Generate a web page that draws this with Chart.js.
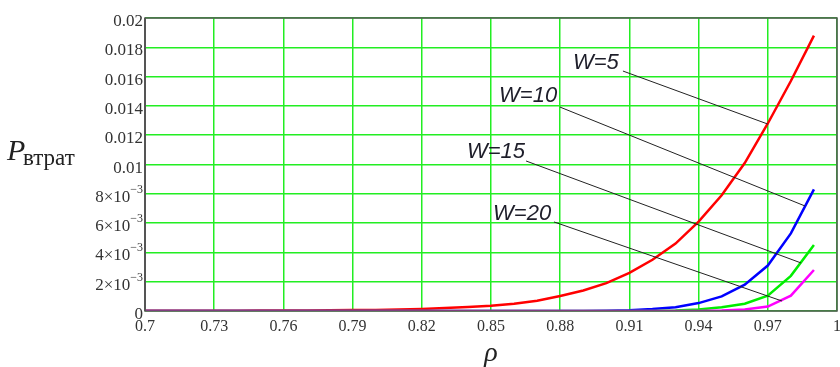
<!DOCTYPE html>
<html>
<head>
<meta charset="utf-8">
<script src="https://cdn.jsdelivr.net/npm/chart.js@4/dist/chart.umd.min.js"></script>
<style>
  html, body { margin: 0; padding: 0; background: #ffffff; }
  #wrap { width: 840px; height: 367px; position: relative; }
</style>
</head>
<body>
<div id="wrap"><canvas id="c" width="840" height="367"></canvas></div>
<script>
// Load factor values along the horizontal axis
const rho = [0.70, 0.71, 0.72, 0.73, 0.74, 0.75, 0.76, 0.77, 0.78, 0.79,
             0.80, 0.81, 0.82, 0.83, 0.84, 0.85, 0.86, 0.87, 0.88, 0.89,
             0.90, 0.91, 0.92, 0.93, 0.94, 0.95, 0.96, 0.97, 0.98, 0.99];

// Loss probability for each buffer size W
const lossW5 = [0.00001, 0.000012, 0.000015, 0.000018, 0.000022, 0.000027, 0.000033, 0.00004, 0.000049, 0.00006,
                0.000075, 0.000095, 0.00014, 0.0002, 0.00027, 0.00036, 0.0005, 0.0007, 0.00102, 0.0014,
                0.0019, 0.0026, 0.0035, 0.0046, 0.0061, 0.0079, 0.0101, 0.0128, 0.0157, 0.0188];
const lossW10 = [0, 0, 0, 0, 0, 0, 0, 0, 0, 0,
                 0, 0, 0, 0, 0, 0, 0, 0, 0, 0,
                 0.00002, 0.00005, 0.00013, 0.00026, 0.00054, 0.001, 0.0018, 0.0031, 0.0053, 0.0083];
const lossW15 = [0, 0, 0, 0, 0, 0, 0, 0, 0, 0,
                 0, 0, 0, 0, 0, 0, 0, 0, 0, 0,
                 0, 0, 0, 0.00003, 0.0001, 0.00025, 0.0005, 0.00105, 0.0024, 0.0045];
const lossW20 = [0, 0, 0, 0, 0, 0, 0, 0, 0, 0,
                 0, 0, 0, 0, 0, 0, 0, 0, 0, 0,
                 0, 0, 0, 0, 0, 0.00003, 0.0001, 0.0003, 0.00105, 0.0028];

// Axis ticks
const xTicks = [0.7, 0.73, 0.76, 0.79, 0.82, 0.85, 0.88, 0.91, 0.94, 0.97, 1.0];
const xTickLabels = ["0.7", "0.73", "0.76", "0.79", "0.82", "0.85", "0.88", "0.91", "0.94", "0.97", "1"];
const yTicks = [0, 0.002, 0.004, 0.006, 0.008, 0.01, 0.012, 0.014, 0.016, 0.018, 0.02];
// [mantissa, exponent] – exponent null means plain label
const yTickLabels = [["0", null], ["2\u00d710", "\u22123"], ["4\u00d710", "\u22123"], ["6\u00d710", "\u22123"],
                     ["8\u00d710", "\u22123"], ["0.01", null], ["0.012", null], ["0.014", null],
                     ["0.016", null], ["0.018", null], ["0.02", null]];

// Curve annotations: label text, label anchor (rho, P) and leader line ends
const noteText = ["W=5", "W=10", "W=15", "W=20"];
const noteAt = [[0.8855, 0.01652], [0.8535, 0.01427], [0.8396, 0.01044], [0.8509, 0.00621]];
const leaderFrom = [[0.9072, 0.01638], [0.8799, 0.01392], [0.8652, 0.01024], [0.8773, 0.00608]];
const leaderTo = [[0.9700, 0.01276], [0.9861, 0.00717], [0.9844, 0.00328], [0.9762, 0.00068]];

const series = [
  { name: "W=5", values: lossW5, color: "#ff0000", order: 3 },
  { name: "W=10", values: lossW10, color: "#0000ff", order: 2 },
  { name: "W=15", values: lossW15, color: "#00ee00", order: 1 },
  { name: "W=20", values: lossW20, color: "#ff00ff", order: 0 }
];

const GRID = "#22ee22";
const FRAME = "#555555";

const decorations = {
  id: "decorations",
  afterDatasetsDraw(chart) {
    const ctx = chart.ctx;
    const xs = chart.scales.x, ys = chart.scales.y;
    const a = chart.chartArea;
    ctx.save();
    // frame around the plot
    ctx.strokeStyle = FRAME;
    ctx.lineWidth = 1.5;
    ctx.strokeRect(a.left, a.top, a.right - a.left, a.bottom - a.top);
    ctx.lineWidth = 2;
    ctx.beginPath();
    ctx.moveTo(a.left, a.top);
    ctx.lineTo(a.left, a.bottom);
    ctx.stroke();

    // leader lines
    ctx.strokeStyle = "#222222";
    ctx.lineWidth = 1;
    for (let i = 0; i < noteText.length; i++) {
      ctx.beginPath();
      ctx.moveTo(xs.getPixelForValue(leaderFrom[i][0]), ys.getPixelForValue(leaderFrom[i][1]));
      ctx.lineTo(xs.getPixelForValue(leaderTo[i][0]), ys.getPixelForValue(leaderTo[i][1]));
      ctx.stroke();
    }
    // curve labels
    ctx.fillStyle = "#1e1e2a";
    ctx.font = "italic 22px 'Liberation Sans', Arial, sans-serif";
    ctx.textAlign = "left";
    ctx.textBaseline = "alphabetic";
    for (let i = 0; i < noteText.length; i++) {
      ctx.fillText(noteText[i], xs.getPixelForValue(noteAt[i][0]), ys.getPixelForValue(noteAt[i][1]));
    }

    // y tick labels with exponent notation
    ctx.fillStyle = "#333333";
    const right = a.left - 2;
    for (let i = 0; i < yTicks.length; i++) {
      const y = ys.getPixelForValue(yTicks[i]);
      const [m, e] = yTickLabels[i];
      ctx.textAlign = "right";
      ctx.textBaseline = "alphabetic";
      if (e) {
        ctx.font = "12px 'Liberation Serif', 'Times New Roman', serif";
        const ew = ctx.measureText(e).width;
        ctx.fillText(e, right, y - 1);
        ctx.font = "17px 'Liberation Serif', 'Times New Roman', serif";
        ctx.fillText(m, right - ew, y + 8);
      } else {
        ctx.font = "17px 'Liberation Serif', 'Times New Roman', serif";
        ctx.fillText(m, right, y + 8);
      }
    }

    // axis titles
    ctx.fillStyle = "#222222";
    ctx.textAlign = "left";
    ctx.font = "italic 30px 'Liberation Serif', 'Times New Roman', serif";
    ctx.fillText("P", 7, 160);
    ctx.font = "23px 'Liberation Serif', 'Times New Roman', serif";
    ctx.fillText("втрат", 23, 165);
    ctx.textAlign = "center";
    ctx.font = "italic 28px 'Liberation Serif', 'Times New Roman', serif";
    ctx.fillText("\u03c1", (a.left + a.right) / 2, 361);
    ctx.restore();
  }
};

new Chart(document.getElementById("c"), {
  type: "line",
  data: {
    datasets: series.map(s => ({
      label: s.name,
      data: rho.map((r, i) => ({ x: r, y: s.values[i] })),
      borderColor: s.color,
      backgroundColor: s.color,
      borderWidth: 2.5,
      pointRadius: 0,
      tension: 0,
      fill: false,
      order: s.order
    }))
  },
  options: {
    responsive: false,
    animation: false,
    layout: { padding: { left: 0, right: 3, top: 18, bottom: 0 } },
    plugins: { legend: { display: false }, tooltip: { enabled: false } },
    scales: {
      x: {
        type: "linear",
        min: 0.7,
        max: 1.0,
        afterBuildTicks: s => { s.ticks = xTicks.map(v => ({ value: v })); },
        afterFit: s => { s.height = 56; s.paddingLeft = 0; s.paddingRight = 0; },
        ticks: {
          autoSkip: false,
          maxRotation: 0,
          padding: 6,
          color: "#333333",
          font: { family: "'Liberation Serif', 'Times New Roman', serif", size: 16 },
          callback: (v, i) => xTickLabels[i]
        },
        grid: { color: GRID, lineWidth: 1.5, drawTicks: false },
        border: { display: false }
      },
      y: {
        min: 0,
        max: 0.02,
        afterBuildTicks: s => { s.ticks = yTicks.map(v => ({ value: v })); },
        afterFit: s => { s.width = 145; s.paddingTop = 0; s.paddingBottom = 0; },
        ticks: { display: false },
        grid: { color: GRID, lineWidth: 1.5, drawTicks: false },
        border: { display: false }
      }
    }
  },
  plugins: [decorations]
});
</script>
</body>
</html>
